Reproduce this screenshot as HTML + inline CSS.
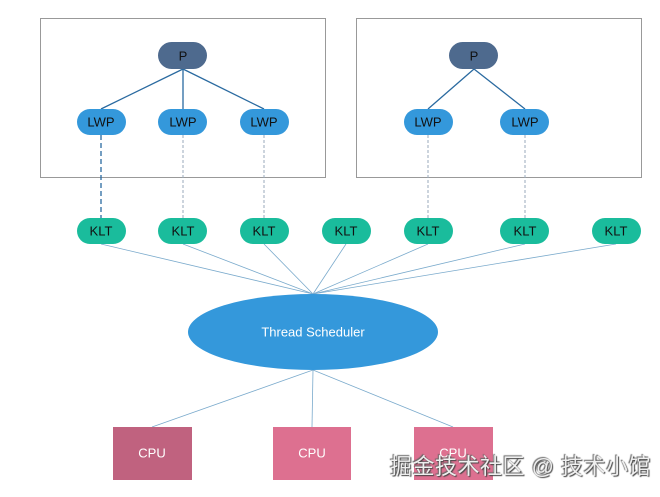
<!DOCTYPE html>
<html><head><meta charset="utf-8"><style>
body{margin:0;background:#fff;width:660px;height:497px;overflow:hidden}
svg text{font-family:"Liberation Sans",sans-serif;font-size:13px;text-anchor:middle;dominant-baseline:central}
.wm{position:absolute;left:390px;top:452px;font-family:"Liberation Sans","Noto Sans CJK SC",sans-serif;font-size:22px;line-height:30px;color:#eee;text-shadow:1px 1px 1px #444,-1px -1px 1px #666;letter-spacing:0.5px;white-space:nowrap}
</style></head><body>
<svg width="660" height="497" style="position:absolute;left:0;top:0">
<rect x="40.5" y="18.5" width="285" height="159" fill="none" stroke="#999" stroke-width="1"/>
<rect x="356.5" y="18.5" width="285" height="159" fill="none" stroke="#999" stroke-width="1"/>
<g stroke="#2a6aa0" stroke-width="1.3">
<line x1="183" y1="69" x2="101" y2="109"/><line x1="183" y1="69" x2="183" y2="109"/><line x1="183" y1="69" x2="264" y2="109"/>
<line x1="474" y1="69" x2="428" y2="109"/><line x1="474" y1="69" x2="525" y2="109"/>
</g>
<line x1="101" y1="135" x2="101" y2="218" stroke="#2a6aa0" stroke-width="1.3" stroke-dasharray="5,3"/>
<g stroke="#9ab" stroke-width="1" stroke-dasharray="3,2">
<line x1="183" y1="135" x2="183" y2="218"/><line x1="264" y1="135" x2="264" y2="218"/>
<line x1="428" y1="135" x2="428" y2="218"/><line x1="525" y1="135" x2="525" y2="218"/>
</g>
<g stroke="#7aaacc" stroke-width="0.8">
<line x1="101" y1="244" x2="313" y2="294"/><line x1="183" y1="244" x2="313" y2="294"/><line x1="264" y1="244" x2="313" y2="294"/>
<line x1="346" y1="244" x2="313" y2="294"/><line x1="428" y1="244" x2="313" y2="294"/><line x1="525" y1="244" x2="313" y2="294"/>
<line x1="616" y1="244" x2="313" y2="294"/>
<line x1="313" y1="370" x2="152" y2="427"/><line x1="313" y1="370" x2="312" y2="427"/><line x1="313" y1="370" x2="453" y2="427"/>
</g>
<g fill="#4e6a8e"><rect x="158" y="42" width="49" height="27" rx="13.5"/><rect x="449" y="42" width="49" height="27" rx="13.5"/></g>
<g fill="#3498db">
<rect x="77" y="109" width="49" height="26" rx="13"/><rect x="158" y="109" width="49" height="26" rx="13"/><rect x="240" y="109" width="49" height="26" rx="13"/>
<rect x="404" y="109" width="49" height="26" rx="13"/><rect x="500" y="109" width="49" height="26" rx="13"/>
</g>
<g fill="#1abc9c">
<rect x="77" y="218" width="49" height="26" rx="13"/><rect x="158" y="218" width="49" height="26" rx="13"/><rect x="240" y="218" width="49" height="26" rx="13"/>
<rect x="322" y="218" width="49" height="26" rx="13"/><rect x="404" y="218" width="49" height="26" rx="13"/><rect x="500" y="218" width="49" height="26" rx="13"/>
<rect x="592" y="218" width="49" height="26" rx="13"/>
</g>
<g fill="#111">
<text x="183" y="56">P</text><text x="474" y="56">P</text>
<text x="101" y="122">LWP</text><text x="183" y="122">LWP</text><text x="264" y="122">LWP</text><text x="428" y="122">LWP</text><text x="525" y="122">LWP</text>
<text x="101" y="231">KLT</text><text x="183" y="231">KLT</text><text x="264" y="231">KLT</text><text x="346" y="231">KLT</text><text x="428" y="231">KLT</text><text x="525" y="231">KLT</text><text x="616" y="231">KLT</text>
</g>
<ellipse cx="313" cy="332" rx="125" ry="38" fill="#3498db"/>
<text x="313" y="332" fill="#fff">Thread Scheduler</text>
<rect x="113" y="427" width="79" height="53" fill="#c0627f"/>
<rect x="273" y="427" width="78" height="53" fill="#dd7090"/>
<rect x="414" y="427" width="79" height="53" fill="#dd7090"/>
<g fill="#fff"><text x="152" y="453">CPU</text><text x="312" y="453">CPU</text><text x="453" y="453">CPU</text></g>
</svg>
<div class="wm">掘金技术社区 @ 技术小馆</div>
</body></html>
